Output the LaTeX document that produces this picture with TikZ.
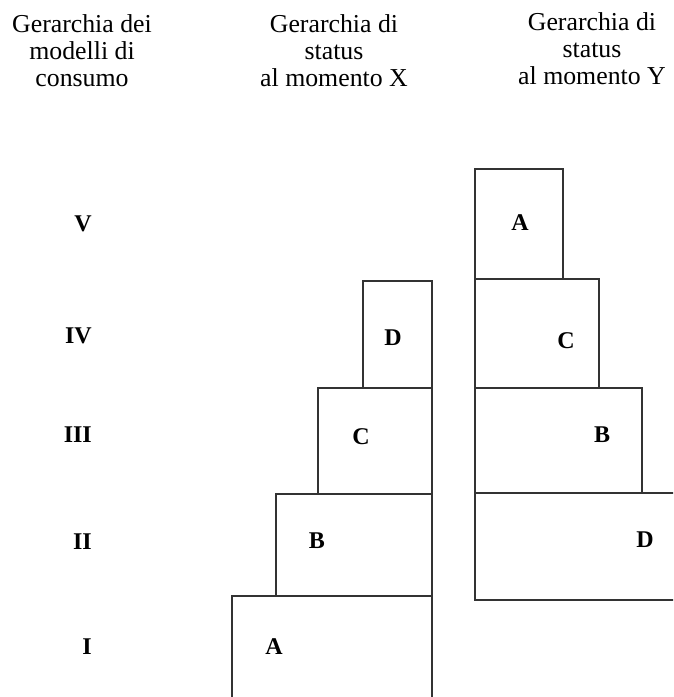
\documentclass[tikz,border=0pt]{standalone}
\usepackage{fontspec}
\setmainfont{Liberation Serif}
\usepackage{tikz}

\begin{document}
\begin{tikzpicture}[x=1pt,y=-1pt,
  blk/.style={draw=black!80,line width=1.4pt},
  lbl/.style={inner sep=0pt,font=\fontsize{24}{24}\selectfont\bfseries},
  hdr/.style={align=center,anchor=north,inner sep=0pt,font=\fontsize{25.8}{27}\selectfont}]
  \useasboundingbox (0,0) rectangle (673,697);
  \clip (0,0) rectangle (673,697);
  % column headings
  \node[hdr] (hcons) at (82,14) {Gerarchia dei\\modelli di\\consumo};
  \node[hdr] (hstX) at (334,14) {Gerarchia di\\status\\al momento X};
  \node[hdr] (hstY) at (592,12) {Gerarchia di\\status\\al momento Y};
  % consumption levels
  \foreach \r/\yy in {V/224,IV/336,III/435,II/542,I/647}
    \node[lbl,anchor=east] (lev\r) at (92,\yy) {\r};
  % status at moment X: flush right at 432
  \foreach \n/\xl/\yt/\yb/\lx/\ly in {D/363/281/388/393/338,C/318/388/494/361/437,
                                      B/276/494/596/317/541,A/232/596/710/274/647} {
    \draw[blk] (\xl,\yt) rectangle (432,\yb);
    \node[lbl] (x\n) at (\lx,\ly) {\n};
  }
  % status at moment Y: flush left at 475
  \foreach \n/\xr/\yt/\yb/\lx/\ly in {A/563/169/279/520/223,C/599/279/388/566/341,
                                      B/642/388/493/602/435,D/690/493/600/645/540} {
    \draw[blk] (475,\yt) rectangle (\xr,\yb);
    \node[lbl] (y\n) at (\lx,\ly) {\n};
  }
\end{tikzpicture}
\end{document}
